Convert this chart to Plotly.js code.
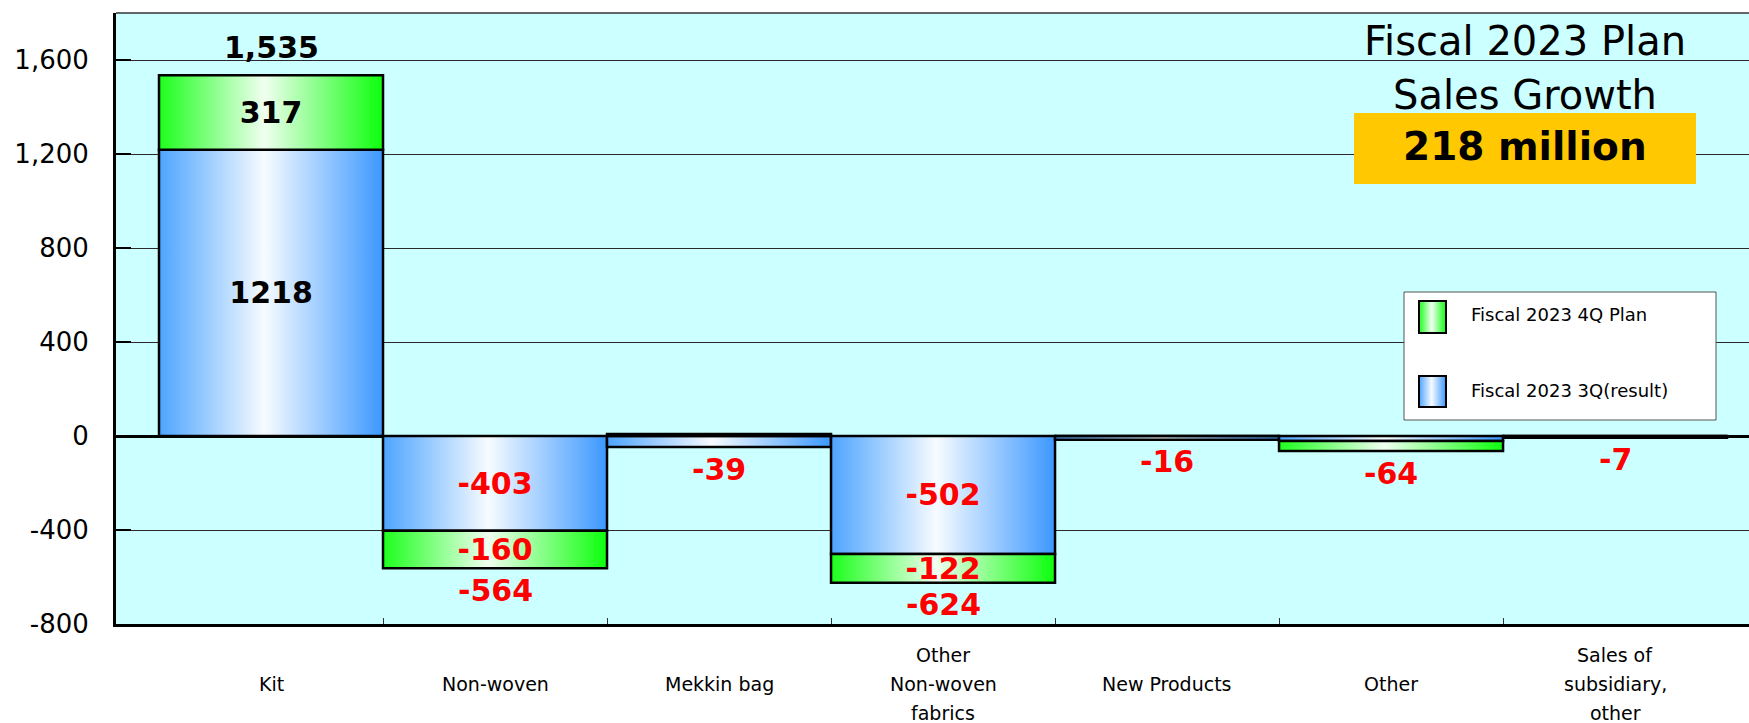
<!DOCTYPE html>
<html>
<head>
<meta charset="utf-8">
<script src="https://cdn.plot.ly/plotly-3.0.1.min.js"></script>
<style>
  html, body { margin: 0; padding: 0; background: #ffffff; }
  #chart { width: 1749px; height: 723px; }
</style>
</head>
<body>
<div id="chart"></div>
<script>
// Sales change by product line (million yen)
const categories = ['Kit', 'Non-woven', 'Mekkin bag', 'Other<br>Non-woven<br>fabrics', 'New Products', 'Other', 'Sales of<br>subsidiary,<br>other'];
const result3Q = [1218, -403, -47, -502, -16, -21, -7];
const plan4Q = [317, -160, 8, -122, 0, -43, 0];
const totals = [1535, -564, -39, -624, -16, -64, -7];
const innerLabelShown = [true, true, false, true, false, false, false];

const yTickVals = [-800, -400, 0, 400, 800, 1200, 1600];
const yTickText = ['-800', '-400', '0', '400', '800', '1,200', '1,600'];

const headline = ['Fiscal 2023 Plan', 'Sales Growth'];
const growthText = '218 million';
const legendNames = ['Fiscal 2023 4Q Plan', 'Fiscal 2023 3Q(result)'];

// Flat fills used as placeholders, swapped for gradients after drawing
const BLUE = 'rgb(61, 155, 255)';
const GREEN = 'rgb(17, 255, 17)';
const RED = '#ff0000';
const FONT = 'DejaVu Sans';

const W = 1749, H = 723;
const M = { l: 116, r: 0, t: 13, b: 99 };
const plotW = W - M.l - M.r, plotH = H - M.t - M.b;
const px = X => (X - M.l) / plotW;          // page x -> paper x
const py = Y => (H - M.b - Y) / plotH;       // page y -> paper y
const X_RANGE = [-0.692, 6.598];

const labelColor = v => (v < 0 ? RED : '#000000');
const fmtTotal = v => (v < 0 ? '-' : '') + Math.abs(v).toLocaleString('en-US');

function barTrace(name, values, color) {
  return {
    type: 'bar',
    name: name,
    x: categories,
    y: values,
    width: 1,
    marker: { color: color, line: { color: '#000000', width: 2.5 } },
    text: values.map((v, i) => (innerLabelShown[i] ? String(v) : '')),
    textposition: 'inside',
    insidetextanchor: 'middle',
    textangle: 0,
    constraintext: 'none',
    textfont: { family: FONT, size: 30, weight: 700, color: values.map(labelColor) },
    cliponaxis: false,
    hoverinfo: 'skip'
  };
}

const data = [
  barTrace(legendNames[1], result3Q, BLUE),
  barTrace(legendNames[0], plan4Q, GREEN),
  // carrier for the boundary tick axis
  { type: 'scatter', x: [], y: [], xaxis: 'x2', yaxis: 'y', hoverinfo: 'skip', showlegend: false }
];

const annotations = [];

// Totals placed just beyond the outer end of each stack
totals.forEach((v, i) => {
  const parts = [result3Q[i], plan4Q[i]];
  const reach = v < 0
    ? parts.filter(p => p < 0).reduce((a, b) => a + b, 0)
    : parts.filter(p => p > 0).reduce((a, b) => a + b, 0);
  annotations.push({
    x: categories[i], y: reach, xref: 'x', yref: 'y',
    text: fmtTotal(v), showarrow: false,
    yanchor: 'middle', yshift: v < 0 ? -22 : 28,
    font: { family: FONT, size: 30, weight: 700, color: labelColor(v) }
  });
});

// Category names, vertically centred under each band
categories.forEach(c => {
  const lines = c.split('<br>');
  lines.forEach((line, j) => {
    annotations.push({
      x: c, y: py(684), xref: 'x', yref: 'paper',
      text: line, showarrow: false, yanchor: 'middle',
      yshift: -(j - (lines.length - 1) / 2) * 29,
      font: { family: FONT, size: 19, color: '#000000' }
    });
  });
});

// Headline block
annotations.push(
  { x: px(1525), y: py(41), xref: 'paper', yref: 'paper', text: headline[0], showarrow: false,
    xanchor: 'center', yanchor: 'middle', font: { family: FONT, size: 40, color: '#000000' } },
  { x: px(1525), y: py(95), xref: 'paper', yref: 'paper', text: headline[1], showarrow: false,
    xanchor: 'center', yanchor: 'middle', font: { family: FONT, size: 40, color: '#000000' } },
  { x: px(1525), y: py(147), xref: 'paper', yref: 'paper', text: growthText, showarrow: false,
    xanchor: 'center', yanchor: 'middle', font: { family: FONT, size: 39, weight: 700, color: '#000000' } }
);

// Legend entries
annotations.push(
  { x: px(1469), y: py(315), xref: 'paper', yref: 'paper', text: legendNames[0], showarrow: false,
    xanchor: 'left', yanchor: 'middle', font: { family: FONT, size: 18, color: '#000000' } },
  { x: px(1469), y: py(390), xref: 'paper', yref: 'paper', text: legendNames[1], showarrow: false,
    xanchor: 'left', yanchor: 'middle', font: { family: FONT, size: 18, color: '#000000' } }
);

const shapes = [
  // thin frame on top of the plot area
  { type: 'line', xref: 'paper', yref: 'paper', x0: 0, x1: 1, y0: 1, y1: 1, line: { color: '#333333', width: 1.5 } },
  // growth highlight box
  { type: 'rect', xref: 'paper', yref: 'paper', x0: px(1354), x1: px(1696), y0: py(184), y1: py(113),
    fillcolor: '#ffc800', line: { width: 0 } },
  // legend frame and swatches
  { type: 'rect', xref: 'paper', yref: 'paper', x0: px(1404), x1: px(1716), y0: py(420), y1: py(292),
    fillcolor: '#ffffff', line: { color: '#555555', width: 1 } },
  { type: 'rect', xref: 'paper', yref: 'paper', x0: px(1419), x1: px(1446), y0: py(333), y1: py(301),
    fillcolor: GREEN, line: { color: '#000000', width: 2 } },
  { type: 'rect', xref: 'paper', yref: 'paper', x0: px(1419), x1: px(1446), y0: py(407), y1: py(376),
    fillcolor: BLUE, line: { color: '#000000', width: 2 } }
];

// ticks only between neighbouring categories
const boundaryTicks = categories.slice(1).map((_, i) => i + 0.5);

const layout = {
  width: W, height: H,
  margin: { l: M.l, r: M.r, t: M.t, b: M.b, pad: 0 },
  paper_bgcolor: '#ffffff',
  plot_bgcolor: '#ccffff',
  barmode: 'relative',
  bargap: 0,
  showlegend: false,
  font: { family: FONT, color: '#000000' },
  xaxis: {
    type: 'category', range: X_RANGE, automargin: false,
    showticklabels: false, ticks: '',
    showgrid: false, zeroline: false, showline: true, linecolor: '#000000', linewidth: 3
  },
  xaxis2: {
    type: 'linear', overlaying: 'x', anchor: 'y', side: 'bottom', range: X_RANGE, automargin: false,
    tickmode: 'array', tickvals: boundaryTicks, showticklabels: false,
    ticks: 'inside', ticklen: 6, tickwidth: 1, tickcolor: '#333333',
    showgrid: false, zeroline: false, showline: false
  },
  yaxis: {
    range: [-800, 1800], automargin: false,
    tickmode: 'array', tickvals: yTickVals, ticktext: yTickText,
    ticks: 'inside', ticklen: 15, tickwidth: 2, tickcolor: '#000000',
    ticklabelstandoff: 19,
    tickfont: { family: FONT, size: 26, color: '#000000' },
    showgrid: true, gridcolor: '#2a2a2a', gridwidth: 1,
    zeroline: true, zerolinecolor: '#000000', zerolinewidth: 3,
    showline: true, linecolor: '#000000', linewidth: 3
  },
  annotations: annotations,
  shapes: shapes
};

const gd = document.getElementById('chart');

function addGradient(defs, id, edgeL, mid, edgeR) {
  const ns = 'http://www.w3.org/2000/svg';
  const g = document.createElementNS(ns, 'linearGradient');
  g.setAttribute('id', id);
  g.setAttribute('x1', '0'); g.setAttribute('y1', '0');
  g.setAttribute('x2', '1'); g.setAttribute('y2', '0');
  [[0, edgeL], [0.47, mid], [1, edgeR]].forEach(([o, c]) => {
    const s = document.createElementNS(ns, 'stop');
    s.setAttribute('offset', o);
    s.setAttribute('stop-color', c);
    g.appendChild(s);
  });
  defs.appendChild(g);
}

function applyGradients() {
  const ns = 'http://www.w3.org/2000/svg';
  const svg = gd.querySelector('svg.main-svg');
  let defs = svg.querySelector('defs');
  if (!defs) { defs = document.createElementNS(ns, 'defs'); svg.insertBefore(defs, svg.firstChild); }
  addGradient(defs, 'gradBlue', '#4da4ff', '#f7fbff', '#3b98ff');
  addGradient(defs, 'gradGreen', '#1cff1c', '#f0fff0', '#0cff0c');
  const norm = s => (s || '').replace(/\s/g, '');
  gd.querySelectorAll('path').forEach(p => {
    const f = norm(p.style.fill);
    if (f === norm(BLUE)) p.style.fill = 'url(#gradBlue)';
    else if (f === norm(GREEN)) p.style.fill = 'url(#gradGreen)';
  });
}

Plotly.newPlot(gd, data, layout, { displayModeBar: false, staticPlot: true }).then(applyGradients);
</script>
</body>
</html>
